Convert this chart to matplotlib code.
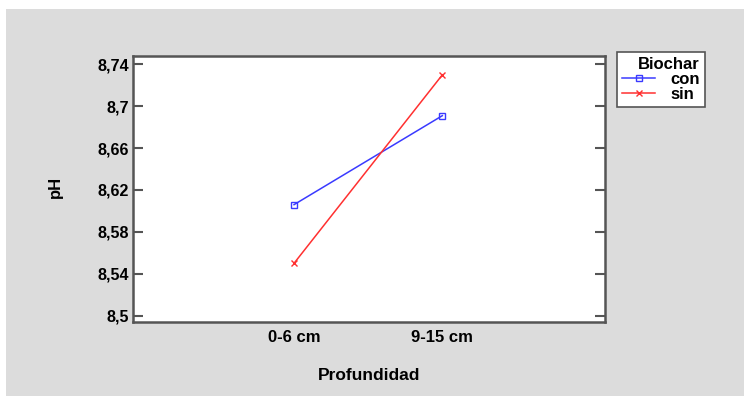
import matplotlib
matplotlib.use("Agg")
import matplotlib.pyplot as plt
from matplotlib.patches import Rectangle

plt.rcParams['font.family'] = ['Liberation Sans', 'DejaVu Sans']
plt.rcParams['font.weight'] = 'bold'

depths = ["0-6 cm", "9-15 cm"]
ph_con = [8.606, 8.691]
ph_sin = [8.550, 8.730]
y_ticks = [8.5, 8.54, 8.58, 8.62, 8.66, 8.70, 8.74]
y_tick_labels = ["8,5", "8,54", "8,58", "8,62", "8,66", "8,7", "8,74"]

W, H = 744, 396
fig = plt.figure(figsize=(W / 100, H / 100), dpi=100)
fig.patch.set_facecolor("white")

# grey panel behind the plot
fig.patches.append(Rectangle((6 / W, 0), 1 - 6 / W, 1 - 9 / H,
                             transform=fig.transFigure, facecolor="#dcdcdc",
                             edgecolor="none", zorder=-10))

left, right, top, bottom = 133, 605, 56, 322
ax = fig.add_axes([left / W, 1 - bottom / H, (right - left) / W, (bottom - top) / H])
ax.set_facecolor("white")

x = [1, 2]
ax.plot(x, ph_con, color="#3a3aff", lw=1.1, marker="s", ms=4,
        mfc="none", mec="#3a3aff", mew=1.0, label="con")
ax.plot(x, ph_sin, color="#ff3030", lw=1.1, marker="x", ms=4,
        mec="#ff3030", mew=1.0, label="sin")

ax.set_xlim(-0.086, 3.097)
ax.set_ylim(8.4939, 8.748)
ax.set_xticks(x)
ax.set_xticklabels(depths)
ax.set_yticks(y_ticks)
ax.set_yticklabels(y_tick_labels)

for s in ax.spines.values():
    s.set_color("#555555")
    s.set_linewidth(1.8)

ax.tick_params(axis="y", direction="in", length=7, width=1.5, color="#555555",
               left=True, right=True, labelsize=11.6, pad=3)
ax.tick_params(axis="x", length=0, labelsize=12, pad=6)
for lab in ax.get_xticklabels() + ax.get_yticklabels():
    lab.set_fontweight("bold")

fig.text(55 / W, 1 - 187 / H, "pH", rotation=90, ha="center", va="center",
         fontsize=12, fontweight="bold")
fig.text(369 / W, 1 - 376 / H, "Profundidad", ha="center", va="center",
         fontsize=12.5, fontweight="bold")

leg = ax.legend(title="Biochar", loc="upper left",
                bbox_to_anchor=((617 - left) / (right - left),
                                1 + (top - 52) / (bottom - top)),
                frameon=True, fancybox=False, framealpha=1.0,
                fontsize=12, title_fontsize=12,
                handlelength=2.0, handletextpad=0.9, borderpad=0.3,
                labelspacing=0.0, borderaxespad=0)
leg.get_title().set_fontweight("bold")
leg._legend_box.align = "right"
leg.get_frame().set_edgecolor("#555555")
leg.get_frame().set_linewidth(1.2)
leg.get_frame().set_facecolor("white")
for t in leg.get_texts():
    t.set_fontweight("bold")

fig.savefig("out.png", dpi=100)
